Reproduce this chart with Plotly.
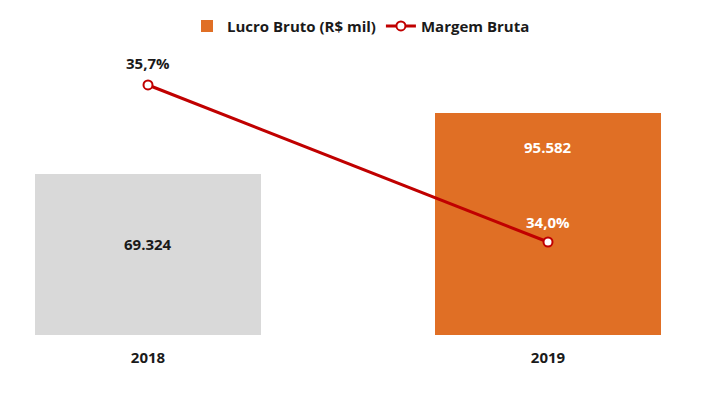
import plotly.graph_objects as go

years = ["2018", "2019"]
lucro_bruto = [69324, 95582]
margem_bruta = [35.7, 34.0]
lucro_labels = ["69.324", "95.582"]
margem_labels = ["35,7%", "34,0%"]

x_pos = list(range(len(years)))
orange = "#E06F25"
grey = "#D9D9D9"
red = "#C00000"
dark = "#1a1a1a"
font_fam = "Open Sans, Segoe UI, sans-serif"
fsize = 15

fig = go.Figure()

fig.add_trace(go.Bar(
    x=x_pos, y=lucro_bruto, width=0.565,
    marker=dict(color=[grey, orange], line=dict(width=0)),
    showlegend=False, hoverinfo="skip",
))
fig.add_trace(go.Bar(
    x=[None], y=[None], name="Lucro Bruto (R$ mil)",
    marker=dict(color=orange, line=dict(width=0)),
))
fig.add_trace(go.Scatter(
    x=x_pos, y=margem_bruta, name="Margem Bruta", yaxis="y2",
    mode="lines+markers",
    line=dict(color=red, width=3),
    marker=dict(size=9, color="white", line=dict(color=red, width=2)),
    hoverinfo="skip",
))

# bar value labels
fig.add_annotation(x=x_pos[0], y=lucro_bruto[0] / 2, text=lucro_labels[0], showarrow=False,
                   yshift=10, font=dict(family=font_fam, size=fsize, color=dark, weight="bold"))
fig.add_annotation(x=x_pos[1], y=lucro_bruto[1], text=lucro_labels[1], showarrow=False,
                   yshift=-34, font=dict(family=font_fam, size=fsize, color="white", weight="bold"))
# line value labels
line_colors = [dark, "white"]
line_shift = [22, 20]
for i in range(len(years)):
    fig.add_annotation(x=x_pos[i], y=margem_bruta[i], yref="y2", text=margem_labels[i],
                       showarrow=False, yshift=line_shift[i],
                       font=dict(family=font_fam, size=fsize, color=line_colors[i], weight="bold"))

fig.update_layout(
    width=721, height=398,
    margin=dict(l=3, r=18, t=32, b=71, autoexpand=False),
    paper_bgcolor="white", plot_bgcolor="white",
    font=dict(family=font_fam, size=fsize, color=dark),
    legend=dict(orientation="h", x=0.5, xanchor="center", y=1.047, yanchor="middle",
                font=dict(family=font_fam, size=fsize, color=dark, weight="bold"),
                traceorder="normal"),
    xaxis=dict(range=[-0.3425, 1.4075], tickvals=x_pos, ticktext=years,
               showgrid=False, zeroline=False, showline=False, ticks="",
               ticklabelstandoff=12,
               tickfont=dict(family=font_fam, size=fsize, color=dark, weight="bold")),
    yaxis=dict(range=[0, 127013], visible=False, showgrid=False),
    yaxis2=dict(range=[32.993, 36.187], overlaying="y", side="right", visible=False, showgrid=False),
)

fig.write_html("out.html")
